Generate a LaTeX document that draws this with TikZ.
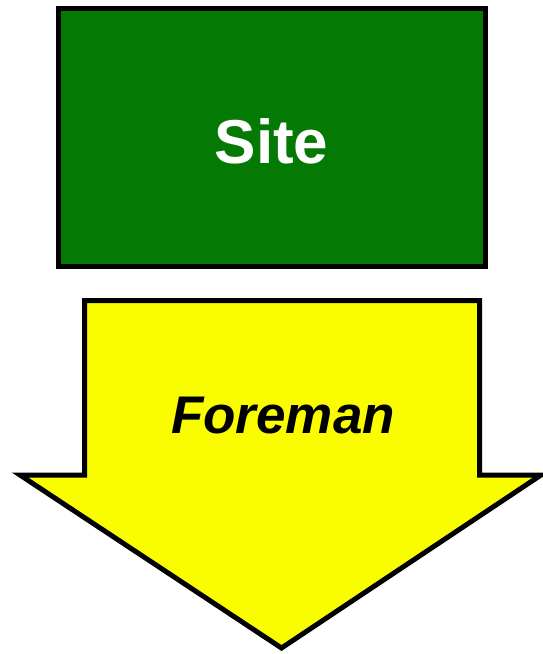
\documentclass[tikz,border=0pt]{standalone}
\usepackage{fontspec}
\setmainfont{Liberation Sans}
\definecolor{sitegreen}{HTML}{047A04}
\definecolor{arrowyellow}{HTML}{FAFC00}
\begin{document}
\begin{tikzpicture}[x=1pt,y=-1pt,
  outline/.style={draw=black,line width=5pt,line join=miter}]
\useasboundingbox (0,0) rectangle (543,654);
\draw[outline,fill=sitegreen] (58.5,8.5) rectangle (485.5,266.5);
\node[text=white,font=\fontsize{62}{74}\selectfont\bfseries] (site) at (271.5,141) {Site};
\draw[outline,fill=arrowyellow] (84.5,300.5) -- (479.5,300.5) -- (479.5,475) -- (541,475) -- (281.5,648) -- (20,475) -- (84.5,475) -- cycle;
\node[text=black,font=\fontsize{53}{63}\selectfont\bfseries\itshape] (foreman) at (283,416) {Foreman};
\end{tikzpicture}
\end{document}
